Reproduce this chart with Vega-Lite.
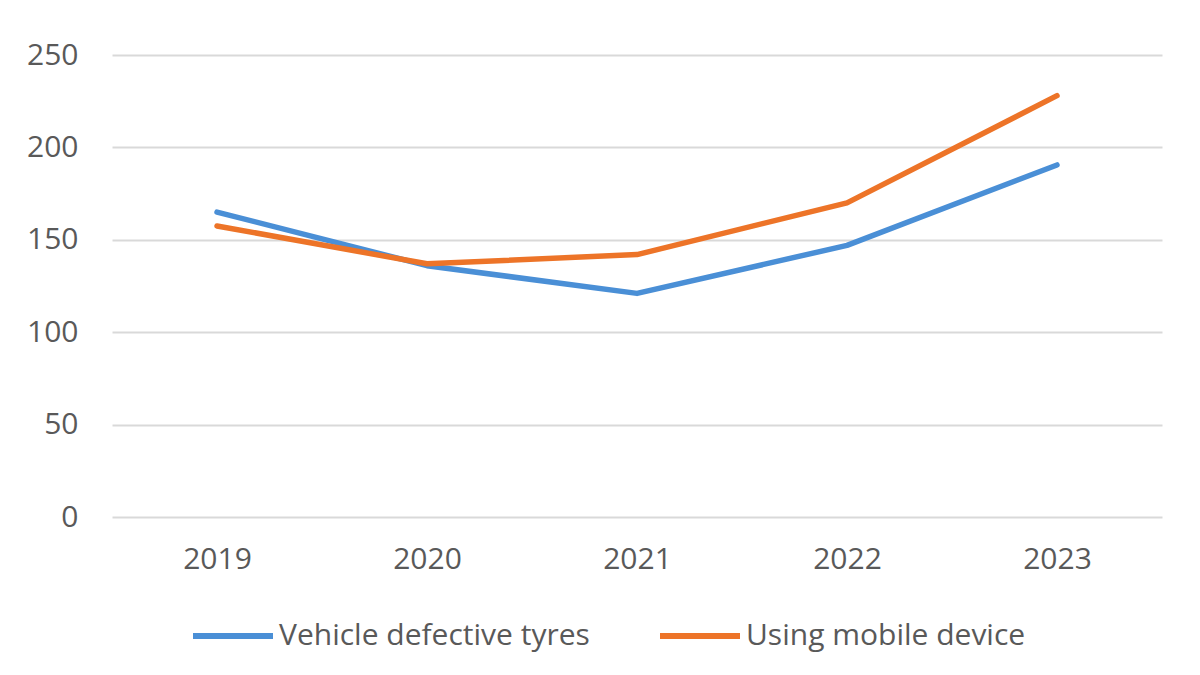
{
  "$schema": "https://vega.github.io/schema/vega-lite/v6.json",
  "width": 1050,
  "height": 462,
  "autosize": "none",
  "padding": {"left": 112, "top": 55, "right": 38, "bottom": 158},
  "background": "#ffffff",
  "data": {
    "values": [
      {"year": "2019", "series": "Vehicle defective tyres", "value": 165},
      {"year": "2020", "series": "Vehicle defective tyres", "value": 136},
      {"year": "2021", "series": "Vehicle defective tyres", "value": 121},
      {"year": "2022", "series": "Vehicle defective tyres", "value": 147},
      {"year": "2023", "series": "Vehicle defective tyres", "value": 190.5},
      {"year": "2019", "series": "Using mobile device", "value": 157.5},
      {"year": "2020", "series": "Using mobile device", "value": 137},
      {"year": "2021", "series": "Using mobile device", "value": 142},
      {"year": "2022", "series": "Using mobile device", "value": 170},
      {"year": "2023", "series": "Using mobile device", "value": 228}
    ]
  },
  "mark": {"type": "line", "strokeWidth": 5.5, "strokeCap": "round", "strokeJoin": "round"},
  "encoding": {
    "x": {
      "field": "year",
      "type": "ordinal",
      "scale": {"type": "point", "padding": 0.5},
      "axis": {
        "title": null,
        "labelAngle": 0,
        "domain": false,
        "ticks": false,
        "grid": false,
        "labelPadding": 27,
        "labelFont": "Open Sans",
        "labelFontSize": 30,
        "labelColor": "#595959"
      }
    },
    "y": {
      "field": "value",
      "type": "quantitative",
      "scale": {"domain": [0, 250], "nice": false},
      "axis": {
        "title": null,
        "values": [0, 50, 100, 150, 200, 250],
        "domain": false,
        "ticks": false,
        "gridColor": "#d9d9d9",
        "gridWidth": 2,
        "labelPadding": 34,
        "labelFont": "Open Sans",
        "labelFontSize": 30,
        "labelColor": "#595959"
      }
    },
    "color": {
      "field": "series",
      "type": "nominal",
      "sort": ["Vehicle defective tyres", "Using mobile device"],
      "scale": {"domain": ["Vehicle defective tyres", "Using mobile device"], "range": ["#4a8fd6", "#ed7428"]},
      "legend": {
        "title": null,
        "orient": "none",
        "direction": "horizontal",
        "legendX": 78,
        "legendY": 538,
        "symbolType": "stroke",
        "symbolSize": 6400,
        "symbolStrokeWidth": 6,
        "labelOffset": 3,
        "labelLimit": 0,
        "columnPadding": 58,
        "labelFont": "Open Sans",
        "labelFontSize": 30,
        "labelColor": "#595959"
      }
    }
  },
  "config": {"view": {"stroke": null}}
}
